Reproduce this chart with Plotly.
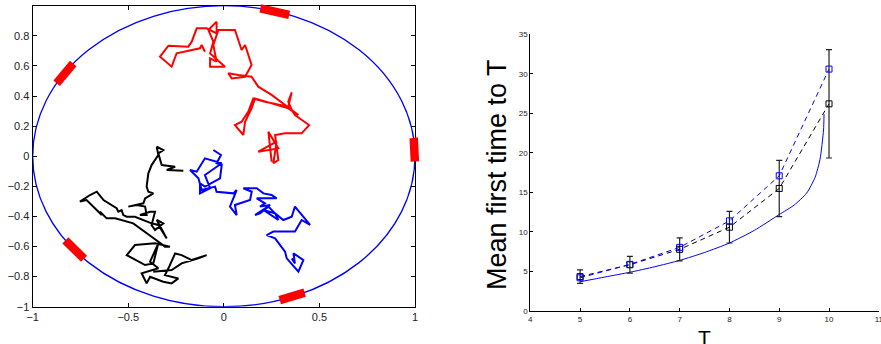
import numpy as np
import plotly.graph_objects as go

# ---------------- Left panel data: random walks (traced) ----------------
red_x = [0.250, 0.233, 0.285, 0.180, 0.276, 0.259, 0.285, 0.268, 0.320, 0.407, 0.446, 0.372,
         0.355, 0.337, 0.355, 0.337, 0.215, 0.154, 0.128, 0.093, 0.058, 0.102, 0.111, 0.145,
         0.163, 0.250, 0.337, 0.390, 0.250, 0.180, 0.145, 0.076, 0.023, 0.041, 0.111, 0.145,
         0.128, 0.111, 0.093, 0.058, -0.029, -0.055, -0.038, -0.072, -0.072, 0.006, -0.072,
         -0.055, -0.081, -0.038, -0.038, -0.090, -0.142, -0.168, -0.186, -0.290, -0.334,
         -0.273, -0.247, -0.125, -0.116, -0.099]
red_y = [-0.036, 0.163, 0.052, 0.030, 0.097, -0.047, -0.025, 0.141, 0.152, 0.152, 0.207, 0.274,
         0.307, 0.362, 0.424, 0.329, 0.362, 0.384, 0.296, 0.229, 0.207, 0.141, 0.229, 0.318,
         0.384, 0.351, 0.318, 0.274, 0.407, 0.462, 0.528, 0.540, 0.551, 0.517, 0.528, 0.606,
         0.672, 0.739, 0.706, 0.839, 0.839, 0.739, 0.628, 0.650, 0.595, 0.595, 0.683,
         0.761, 0.839, 0.894, 0.816, 0.850, 0.850, 0.761, 0.728, 0.734, 0.661,
         0.595, 0.684, 0.717, 0.739, 0.694]

blue_x = [-0.055, -0.015, -0.038, -0.011, -0.020, -0.099, -0.125, -0.125, -0.072, -0.099,
          -0.011, -0.099, -0.142, -0.177, -0.133, -0.116, -0.046, -0.038, 0.050, 0.067,
          0.032, 0.067, 0.058, 0.137, 0.146, 0.102, 0.172, 0.207, 0.250, 0.276, 0.172,
          0.215, 0.189, 0.242, 0.163, 0.189, 0.233, 0.268, 0.207, 0.285, 0.268, 0.311,
          0.355, 0.372, 0.451, 0.407, 0.372, 0.259, 0.224, 0.268, 0.320, 0.329, 0.390,
          0.416, 0.364, 0.372, 0.355]
blue_y = [0.041, 0.008, -0.047, -0.058, -0.147, -0.202, -0.180, -0.247, -0.213, -0.125,
          -0.047, -0.014, -0.103, -0.092, -0.147, -0.225, -0.202, -0.236, -0.247, -0.225,
          -0.335, -0.391, -0.324, -0.291, -0.236, -0.213, -0.213, -0.247, -0.258, -0.280, -0.280,
          -0.313, -0.335, -0.324, -0.391, -0.380, -0.335, -0.380, -0.357, -0.424, -0.380, -0.424,
          -0.402, -0.335, -0.457, -0.424, -0.501, -0.501, -0.524, -0.546, -0.634, -0.679, -0.767,
          -0.690, -0.645, -0.712, -0.679]

black_x = [-0.212, -0.299, -0.255, -0.325, -0.343, -0.317, -0.351, -0.343, -0.378, -0.395,
           -0.404, -0.395, -0.369, -0.412, -0.421, -0.500, -0.456, -0.412, -0.404, -0.439,
           -0.386, -0.360, -0.378, -0.360, -0.317, -0.351, -0.299, -0.343, -0.378, -0.465,
           -0.508, -0.526, -0.535, -0.552, -0.561, -0.630, -0.665, -0.700, -0.753, -0.718,
           -0.639, -0.648, -0.613, -0.569, -0.474, -0.378, -0.308, -0.282, -0.360, -0.465,
           -0.508, -0.412, -0.369, -0.343, -0.386, -0.343, -0.395, -0.430, -0.404, -0.386,
           -0.317, -0.273, -0.238, -0.308, -0.290, -0.255, -0.221, -0.168, -0.090, -0.133,
           -0.221, -0.273, -0.369]
black_y = [-0.096, -0.092, -0.070, -0.059, 0.019, 0.041, 0.063, 0.008, -0.059, -0.114,
           -0.202, -0.236, -0.247, -0.280, -0.313, -0.335, -0.324, -0.335, -0.391, -0.391,
           -0.369, -0.369, -0.457, -0.490, -0.446, -0.424, -0.546, -0.457, -0.446, -0.402,
           -0.402, -0.391, -0.358, -0.369, -0.346, -0.291, -0.236, -0.258, -0.302, -0.291,
           -0.391, -0.369, -0.413, -0.413, -0.446, -0.535, -0.601, -0.601, -0.579, -0.590,
           -0.657, -0.723, -0.712, -0.579, -0.701, -0.745, -0.767, -0.778, -0.845, -0.801,
           -0.834, -0.845, -0.812, -0.790, -0.745, -0.646, -0.657, -0.690, -0.657, -0.679,
           -0.712, -0.756, -0.767]

# red target arcs on the unit circle (start/end angles in degrees)
arc_start = [70, 142, -2, 214, 287]
arc_end = [79, 151, 7, 223, 295]

left_ticks_x = [-1, -0.5, 0, 0.5, 1]
left_ticks_y = [-1, -0.8, -0.6, -0.4, -0.2, 0, 0.2, 0.4, 0.6, 0.8, 1]

# ---------------- Right panel data ----------------
T_vals = [5, 6, 7, 8, 9, 10]
blue_sim = [4.2, 5.9, 8.05, 11.4, 17.1, 30.6]
black_sim = [4.35, 5.85, 7.8, 10.6, 15.5, 26.2]
black_err = [0.85, 1.05, 1.45, 2.0, 3.55, 6.85]

theory_T = [5, 5.5, 6, 6.5, 7, 7.5, 8, 8.5, 9, 9.3, 9.55, 9.72, 9.82, 9.89, 9.9]
theory_v = [3.7, 4.3, 4.9, 5.6, 6.4, 7.4, 8.6, 10.2, 12.2, 13.4, 14.9, 16.9, 19.2, 22.9, 24.9]

right_ticks_x = [4, 5, 6, 7, 8, 9, 10, 11]
right_ticks_y = [0, 5, 10, 15, 20, 25, 30, 35]

W, H = 881, 344
# left plot box in pixels
LX0, LX1, LY0, LY1 = 32.7, 415.0, 5.7, 306.7
PADX, PADT, PADB = 10.0, 5.0, 10.0
ux = (LX1 - LX0) / 2.0
uy = (LY1 - LY0) / 2.0

fig = go.Figure()

# walks
for xs, ys, col in [(red_x, red_y, "#ff0000"), (blue_x, blue_y, "#0000ff"), (black_x, black_y, "#000000")]:
    fig.add_trace(go.Scatter(x=xs, y=ys, mode="lines", line=dict(color=col, width=2),
                             xaxis="x", yaxis="y", showlegend=False, hoverinfo="skip"))

# circle
fig.add_shape(type="circle", xref="x", yref="y", x0=-1, y0=-1, x1=1, y1=1,
              line=dict(color="#0000ff", width=1.3), layer="below")

# red arcs, on an overlay axis pair with identical scale but a little extra room
for a0, a1 in zip(arc_start, arc_end):
    th = np.radians(np.linspace(a0, a1, 20))
    fig.add_trace(go.Scatter(x=np.cos(th), y=np.sin(th), mode="lines",
                             line=dict(color="#ff0000", width=8.5),
                             xaxis="x3", yaxis="y3", showlegend=False, hoverinfo="skip"))

# right panel
fig.add_trace(go.Scatter(x=theory_T, y=theory_v, mode="lines",
                         line=dict(color="#0000ff", width=1, shape="spline", smoothing=0.6),
                         xaxis="x2", yaxis="y2", showlegend=False))
fig.add_trace(go.Scatter(x=T_vals, y=black_sim, mode="lines+markers",
                         line=dict(color="#000000", width=1, dash="5px,4px"),
                         marker=dict(symbol="square-open", size=6, color="#000000", line=dict(width=1)),
                         error_y=dict(type="data", array=black_err, visible=True,
                                      color="#222222", thickness=1.2, width=3),
                         xaxis="x2", yaxis="y2", showlegend=False))
fig.add_trace(go.Scatter(x=T_vals, y=blue_sim, mode="lines+markers",
                         line=dict(color="#0000ff", width=1, dash="5px,4px"),
                         marker=dict(symbol="square-open", size=6, color="#0000ff", line=dict(width=1)),
                         xaxis="x2", yaxis="y2", showlegend=False))

common_left = dict(ticks="inside", ticklen=4, tickcolor="black", showgrid=False, zeroline=False,
                   showline=True, linecolor="black", linewidth=1.2, mirror="ticks",
                   tickfont=dict(size=11))
hidden = dict(visible=False, showgrid=False, zeroline=False)

fig.update_layout(
    width=W, height=H,
    margin=dict(l=0, r=0, t=0, b=0, autoexpand=False),
    paper_bgcolor="white", plot_bgcolor="rgba(0,0,0,0)",
    font=dict(family="Liberation Sans, Arial, sans-serif", color="#222222"),
    xaxis=dict(domain=[LX0 / W, LX1 / W], range=[-1, 1], tickvals=left_ticks_x,
               anchor="y", **common_left),
    yaxis=dict(domain=[1 - LY1 / H, 1 - LY0 / H], range=[-1, 1], tickvals=left_ticks_y,
               anchor="x", **common_left),
    xaxis3=dict(domain=[(LX0 - PADX) / W, (LX1 + PADX) / W],
                range=[-1 - PADX / ux, 1 + PADX / ux], anchor="y3", **hidden),
    yaxis3=dict(domain=[1 - (LY1 + PADB) / H, 1 - (LY0 - PADT) / H],
                range=[-1 - PADB / uy, 1 + PADT / uy], anchor="x3", **hidden),
    xaxis2=dict(domain=[530.3 / W, 878.8 / W], range=[4, 11], tickvals=right_ticks_x,
                ticks="inside", ticklen=3, tickcolor="black", showgrid=False, zeroline=False,
                showline=True, linecolor="black", linewidth=1, tickfont=dict(size=8),
                ticklabeloverflow="allow", anchor="y2"),
    yaxis2=dict(domain=[1 - 311 / H, 1 - 34.3 / H], range=[0, 35], tickvals=right_ticks_y,
                ticks="inside", ticklen=3, tickcolor="black", showgrid=False, zeroline=False,
                showline=True, linecolor="black", linewidth=1, tickfont=dict(size=8),
                anchor="x2"),
)

fig.add_annotation(text="Mean first time to T", xref="paper", yref="paper",
                   x=497 / W, y=1 - 175 / H, textangle=-90, showarrow=False,
                   font=dict(size=27, color="black"), xanchor="center", yanchor="middle")
fig.add_annotation(text="T", xref="paper", yref="paper",
                   x=704 / W, y=1 - 328 / H, showarrow=False,
                   font=dict(size=21, color="black"), xanchor="center", yanchor="top", yshift=4)

fig.write_html("out.html", config={"displayModeBar": False},
               post_script="document.body.style.margin='0';document.body.style.overflow='hidden';")
